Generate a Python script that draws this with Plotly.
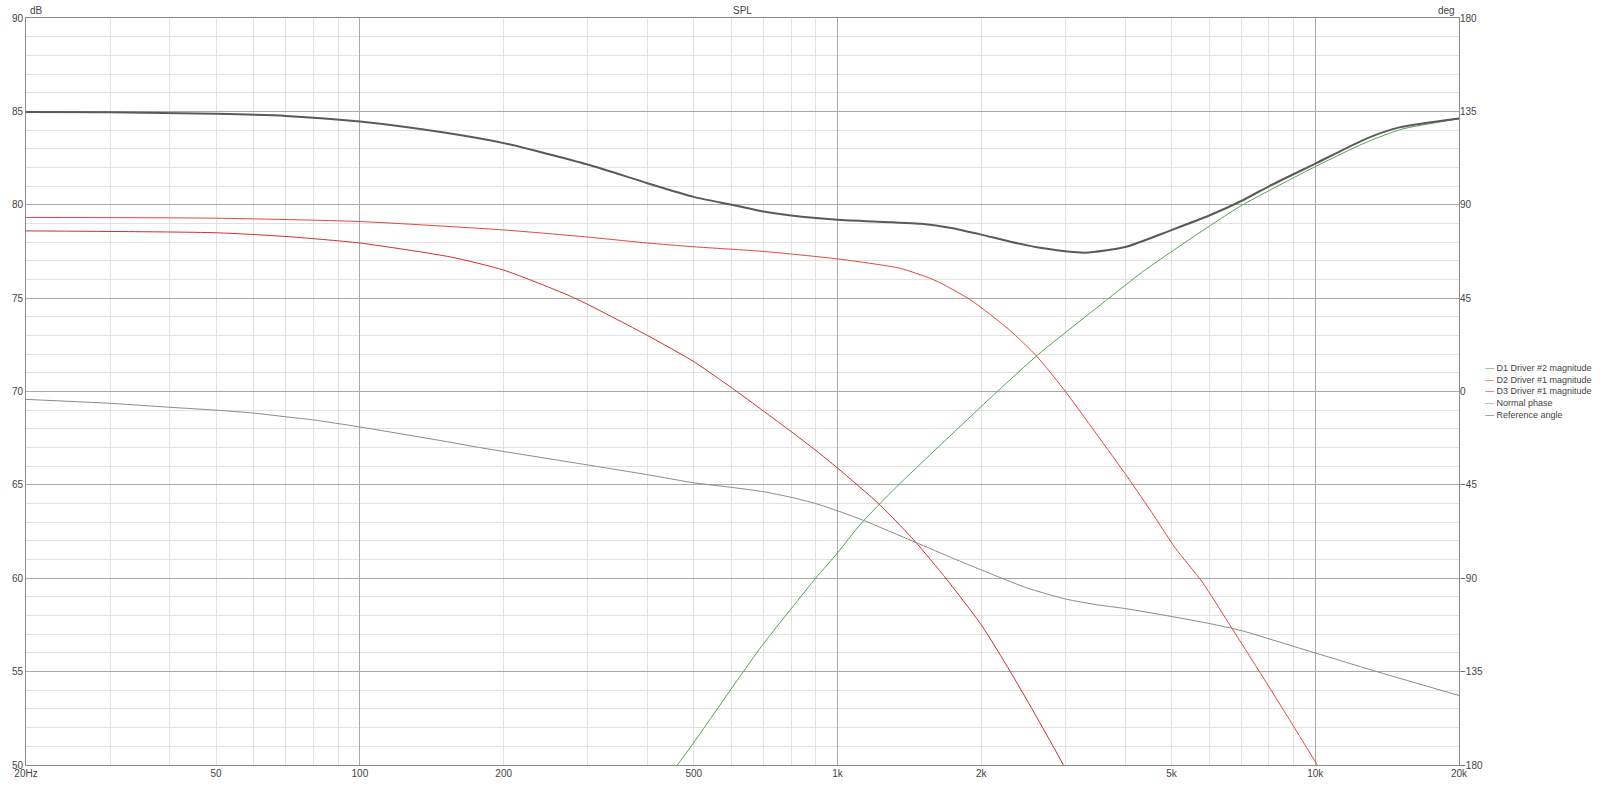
import plotly.graph_objects as go

# frequency response readings (Hz / dB / deg)
freq_d1 = [430, 462, 500, 635, 700, 900, 1000, 1120, 1330, 2160, 2620, 3700, 4400, 5800, 7000, 10000, 12800, 15200,
           20000]
spl_d1 = [49.0, 50.0, 51.2, 55.0, 56.5, 60.0, 61.36, 62.93, 64.9, 70.0, 71.94, 75.0, 76.5, 78.6, 79.95, 82.04, 83.35,
          84.05, 84.6]

freq_d2 = [20, 50, 100, 200, 300, 400, 500, 700, 1000, 1350, 1600, 1900, 2290, 2620, 3000, 3400, 4000, 4500, 5100,
           5800, 6700, 7600, 8700, 10100, 11000]
spl_d2 = [79.32, 79.28, 79.1, 78.65, 78.27, 77.95, 77.75, 77.5, 77.1, 76.6, 75.95, 74.9, 73.3, 71.85, 70.0, 68.1, 65.6,
          63.7, 61.6, 59.8, 57.3, 55.1, 52.7, 50.0, 48.4]

freq_d3 = [20, 50, 70, 100, 155, 200, 280, 400, 500, 600, 700, 800, 900, 1000, 1230, 1450, 1690, 2000, 2300, 2620,
           2970, 3200]
spl_d3 = [78.6, 78.5, 78.3, 77.95, 77.2, 76.5, 75.03, 73.0, 71.6, 70.2, 68.95, 67.85, 66.85, 65.9, 63.9, 62.0, 59.96,
          57.5, 55.0, 52.5, 50.0, 48.3]

freq_phase = [20, 30, 40, 50, 60, 70, 80, 100, 155, 178, 300, 400, 500, 600, 700, 800, 900, 1000, 1130, 1450, 1750,
              2000, 2480, 3000, 3500, 4000, 5000, 6000, 7000, 8000, 10000, 13600, 20000]
deg_phase = [-3.8, -5.7, -7.6, -9.0, -10.4, -12.2, -13.7, -17.1, -24.5, -27.0, -35.4, -40.1, -44.0, -46.2, -48.3, -51.0,
             -54.0, -57.5, -62.0, -72.5, -80.5, -86.0, -94.5, -100.0, -102.8, -104.6, -108.4, -111.8, -115.2, -119.2,
             -126.0, -135.3, -146.5]

freq_ref = [20, 30, 50, 70, 100, 150, 200, 300, 400, 500, 600, 700, 800, 1000, 1500, 1730, 2000, 2300, 2700, 3300,
            4000, 5000, 6000, 7000, 8000, 10000, 12800, 15000, 20000]
deg_ref = [134.7, 134.6, 133.8, 132.8, 130.1, 124.8, 119.7, 109.4, 100.4, 93.8, 90.0, 86.7, 84.8, 82.8, 80.8, 78.8,
           75.6, 72.2, 69.0, 66.9, 69.6, 77.8, 84.8, 91.8, 98.9, 109.8, 121.9, 127.3, 131.6]

x_labels = [20, 50, 100, 200, 500, 1000, 2000, 5000, 10000, 20000]
x_label_text = ['20Hz', '50', '100', '200', '500', '1k', '2k', '5k', '10k', '20k']
x_major = [100, 1000, 10000]
x_minor = [30, 40, 50, 60, 70, 80, 90, 200, 300, 400, 500, 600, 700, 800, 900,
           2000, 3000, 4000, 5000, 6000, 7000, 8000, 9000]

FONT = 'Liberation Sans, Arial, sans-serif'


def main():
    series = [
        ('D1 Driver #2 magnitude', freq_d1, spl_d1, '#55a255', 1, 'x', 'y'),
        ('D2 Driver #1 magnitude', freq_d2, spl_d2, '#e4463f', 1, 'x', 'y'),
        ('D3 Driver #1 magnitude', freq_d3, spl_d3, '#d12f2f', 1, 'x', 'y'),
        ('Normal phase', freq_phase, deg_phase, '#8a8a8a', 1, 'x2', 'y2'),
        ('Reference angle', freq_ref, deg_ref, '#5a5a5a', 2, 'x2', 'y2'),
    ]

    fig = go.Figure()
    for name, fx, fy, color, width, xa, ya in series:
        fig.add_trace(go.Scatter(x=fx, y=fy, name=name, mode='lines', xaxis=xa, yaxis=ya,
                                 line=dict(color=color, width=width, shape='spline', smoothing=0.6),
                                 showlegend=False))

    xr = [1.30103, 4.30103]
    fig.update_layout(
        width=1600, height=791,
        margin=dict(l=25, r=141, t=13, b=14),
        paper_bgcolor='white', plot_bgcolor='white',
        font=dict(family=FONT, size=10, color='#444'),
        xaxis=dict(type='log', range=xr, tickvals=x_major, showticklabels=False, ticks='',
                   showgrid=True, gridcolor='#a9a9a9', gridwidth=1,
                   minor=dict(tickvals=x_minor, showgrid=True, gridcolor='#e2e2e2', ticks=''),
                   showline=True, linecolor='#8a8a8a', mirror=True, zeroline=False),
        xaxis2=dict(type='log', range=xr, overlaying='x', side='bottom', tickvals=x_labels,
                    ticktext=x_label_text, ticks='', showgrid=False, zeroline=False,
                    ticklabelstandoff=1, tickfont=dict(size=10, color='#444')),
        yaxis=dict(range=[50, 90], dtick=5, ticks='', showgrid=True, gridcolor='#a9a9a9',
                   minor=dict(dtick=1, showgrid=True, gridcolor='#e2e2e2', ticks=''),
                   showline=True, linecolor='#8a8a8a', mirror=True, zeroline=False),
        yaxis2=dict(range=[-180, 180], dtick=45, overlaying='y', side='right', ticks='',
                    showgrid=False, zeroline=False),
    )

    # small captions round the plot area
    fig.add_annotation(text='SPL', x=0.5, y=1, xref='paper', yref='paper', yanchor='bottom',
                       showarrow=False, font=dict(size=10, color='#444'))
    fig.add_annotation(text='dB', x=0, y=1, xref='paper', yref='paper', xanchor='left', yanchor='bottom',
                       xshift=2, showarrow=False, font=dict(size=10, color='#444'))
    fig.add_annotation(text='deg', x=1, y=1, xref='paper', yref='paper', xanchor='right', yanchor='bottom',
                       xshift=-2, showarrow=False, font=dict(size=10, color='#444'))

    # compact legend like the original app
    rows = ["<span style='color:%s'>\u2014</span> %s" % (s[3], s[0]) for s in series]
    fig.add_annotation(text='<br>'.join(rows), x=1, y=0.5, xref='paper', yref='paper',
                       xanchor='left', yanchor='middle', xshift=24, align='left', showarrow=False,
                       font=dict(size=9, color='#444'))

    fig.write_html('out.html', config={'displayModeBar': False},
                   post_script="document.body.style.margin='0px';")


if __name__ == '__main__':
    main()
